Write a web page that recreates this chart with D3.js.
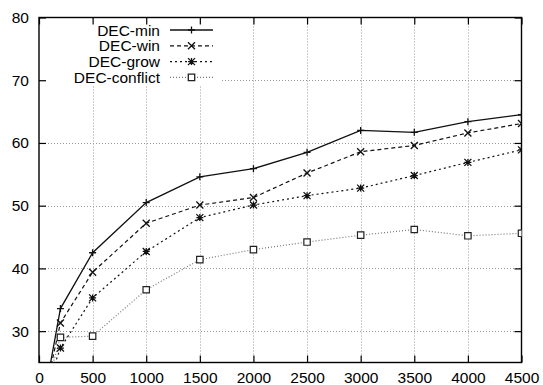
<!DOCTYPE html>
<html>
<head>
<meta charset="utf-8">
<script src="https://cdn.jsdelivr.net/npm/d3@7"></script>
<style>
  body { margin: 0; background: #fff; }
  text { font-family: "Liberation Sans", Arial, Helvetica, sans-serif; fill: #000; }
</style>
</head>
<body>
<div id="chart"></div>
<script>
/* CONSTANTS AND GLOBALS */
const width = 543,
  height = 385,
  margin = { top: 17.5, bottom: 22.5, left: 39, right: 21.5 };

/* DATA */
const xValues = [100, 200, 500, 1000, 1500, 2000, 2500, 3000, 3500, 4000, 4500];
const seriesNames = ["DEC-min", "DEC-win", "DEC-grow", "DEC-conflict"];
const decMin = [24.2, 33.6, 42.5, 50.5, 54.6, 55.9, 58.5, 62.0, 61.7, 63.4, 64.5];
const decWin = [23.5, 31.3, 39.4, 47.2, 50.1, 51.3, 55.2, 58.6, 59.6, 61.6, 63.1];
const decGrow = [22.5, 27.3, 35.3, 42.7, 48.1, 50.1, 51.6, 52.8, 54.8, 56.9, 58.9];
const decConflict = [23.0, 29.0, 29.2, 36.6, 41.4, 43.0, 44.2, 45.3, 46.2, 45.2, 45.6];
const xTicks = [0, 500, 1000, 1500, 2000, 2500, 3000, 3500, 4000, 4500];
const yTicks = [30, 40, 50, 60, 70, 80];

// style per series (kept apart from the values)
const styles = [
  { color: "#111", dash: null, marker: "plus", width: 1.3 },
  { color: "#111", dash: "4,3", marker: "cross", width: 1.2 },
  { color: "#111", dash: "2,3", marker: "star", width: 1.2 },
  { color: "#777", dash: "1,2", marker: "square", width: 1.2 }
];

const series = [decMin, decWin, decGrow, decConflict].map((vals, i) => ({
  name: seriesNames[i],
  style: styles[i],
  points: vals.map((v, j) => ({ x: xValues[j], y: v }))
}));

function markerPath(type, s) {
  const plus = `M${-s},0H${s}M0,${-s}V${s}`;
  const cross = `M${-s},${-s}L${s},${s}M${-s},${s}L${s},${-s}`;
  if (type === "plus") return plus;
  if (type === "cross") return cross;
  if (type === "star") return plus + cross;
  return `M${-s},${-s}H${s}V${s}H${-s}Z`;
}

/* SCALES */
const xScale = d3.scaleLinear().domain([0, 4500]).range([margin.left, width - margin.right]);
const yScale = d3.scaleLinear().domain([25, 80]).range([height - margin.bottom, margin.top]);

const svg = d3.select("#chart").append("svg")
  .attr("width", width)
  .attr("height", height);

svg.append("defs").append("clipPath").attr("id", "plot-clip")
  .append("rect")
  .attr("x", xScale(0)).attr("y", yScale(80))
  .attr("width", xScale(4500) - xScale(0))
  .attr("height", yScale(25) - yScale(80));

// grid
const grid = svg.append("g").attr("class", "grid")
  .attr("stroke", "#999").attr("stroke-width", 1).attr("stroke-dasharray", "1,2");

grid.selectAll("line.vx")
  .data(xTicks.slice(1, -1))
  .join("line")
  .attr("x1", d => Math.round(xScale(d)) + 0.5)
  .attr("x2", d => Math.round(xScale(d)) + 0.5)
  .attr("y1", yScale(80))
  .attr("y2", yScale(25));

grid.selectAll("line.hy")
  .data(yTicks.slice(0, -1))
  .join("line")
  .attr("x1", xScale(0))
  .attr("x2", xScale(4500))
  .attr("y1", d => Math.round(yScale(d)) + 0.5)
  .attr("y2", d => Math.round(yScale(d)) + 0.5);

// legend area blanks the grid (gnuplot style)
svg.append("rect")
  .attr("x", xScale(0) + 1)
  .attr("y", yScale(80) + 1)
  .attr("width", 221 - xScale(0) - 1)
  .attr("height", 85 - yScale(80) - 1)
  .attr("fill", "#fff");

// axes: left/bottom with labels, top/right mirrored ticks
const tickLen = 7;
svg.append("g")
  .attr("transform", `translate(0,${yScale(25)})`)
  .call(d3.axisBottom(xScale).tickValues(xTicks).tickFormat(d3.format("d"))
    .tickSize(-tickLen).tickPadding(9.5).tickSizeOuter(0))
  .call(g => g.select(".domain").remove())
  .call(g => g.selectAll("text").attr("font-size", 15.5));

svg.append("g")
  .attr("transform", `translate(0,${yScale(80)})`)
  .call(d3.axisTop(xScale).tickValues(xTicks).tickSize(-tickLen).tickSizeOuter(0).tickFormat(""))
  .call(g => g.select(".domain").remove());

svg.append("g")
  .attr("transform", `translate(${xScale(0)},0)`)
  .call(d3.axisLeft(yScale).tickValues(yTicks).tickSize(-tickLen).tickPadding(10).tickSizeOuter(0))
  .call(g => g.select(".domain").remove())
  .call(g => g.selectAll("text").attr("font-size", 15.5));

svg.append("g")
  .attr("transform", `translate(${xScale(4500)},0)`)
  .call(d3.axisRight(yScale).tickValues(yTicks).tickSize(-tickLen).tickSizeOuter(0).tickFormat(""))
  .call(g => g.select(".domain").remove());

svg.selectAll(".tick line").attr("stroke", "#000").attr("stroke-width", 1.2);

// border
svg.append("rect")
  .attr("x", xScale(0)).attr("y", yScale(80))
  .attr("width", xScale(4500) - xScale(0))
  .attr("height", yScale(25) - yScale(80))
  .attr("fill", "none").attr("stroke", "#000").attr("stroke-width", 1.4);

// lines
const lineFunc = d3.line().x(d => xScale(d.x)).y(d => yScale(d.y));

const plot = svg.append("g").attr("clip-path", "url(#plot-clip)");

plot.selectAll("path.trend")
  .data(series)
  .join("path")
  .attr("class", "trend")
  .attr("fill", "none")
  .attr("stroke", d => d.style.color)
  .attr("stroke-width", d => d.style.width)
  .attr("stroke-dasharray", d => d.style.dash)
  .attr("d", d => lineFunc(d.points));

series.forEach(s => {
  plot.selectAll(null)
    .data(s.points.filter(p => p.y >= 25))
    .join("path")
    .attr("transform", p => `translate(${xScale(p.x)},${yScale(p.y)})`)
    .attr("d", markerPath(s.style.marker, s.style.marker === "square" ? 3.2 : 3.5))
    .attr("fill", s.style.marker === "square" ? "#fff" : "none")
    .attr("stroke", s.style.marker === "square" ? "#222" : s.style.color)
    .attr("stroke-width", s.style.marker === "square" ? 1.2 : 1.3);
});

// legend
const legend = svg.append("g").attr("class", "legend")
  .selectAll("g")
  .data(series)
  .join("g")
  .attr("transform", (d, i) => `translate(0,${30 + i * 15.8})`);

legend.append("text")
  .attr("x", 160)
  .attr("dy", "0.36em")
  .attr("text-anchor", "end")
  .attr("font-size", 15.5)
  .text(d => d.name);

legend.append("line")
  .attr("x1", 170).attr("x2", 213)
  .attr("stroke", d => d.style.color)
  .attr("stroke-width", d => d.style.width)
  .attr("stroke-dasharray", d => d.style.dash);

legend.append("path")
  .attr("transform", "translate(191.5,0)")
  .attr("d", d => markerPath(d.style.marker, d.style.marker === "square" ? 3.2 : 3.5))
  .attr("fill", d => d.style.marker === "square" ? "#fff" : "none")
  .attr("stroke", d => d.style.marker === "square" ? "#222" : d.style.color)
  .attr("stroke-width", 1.3);
</script>
</body>
</html>
